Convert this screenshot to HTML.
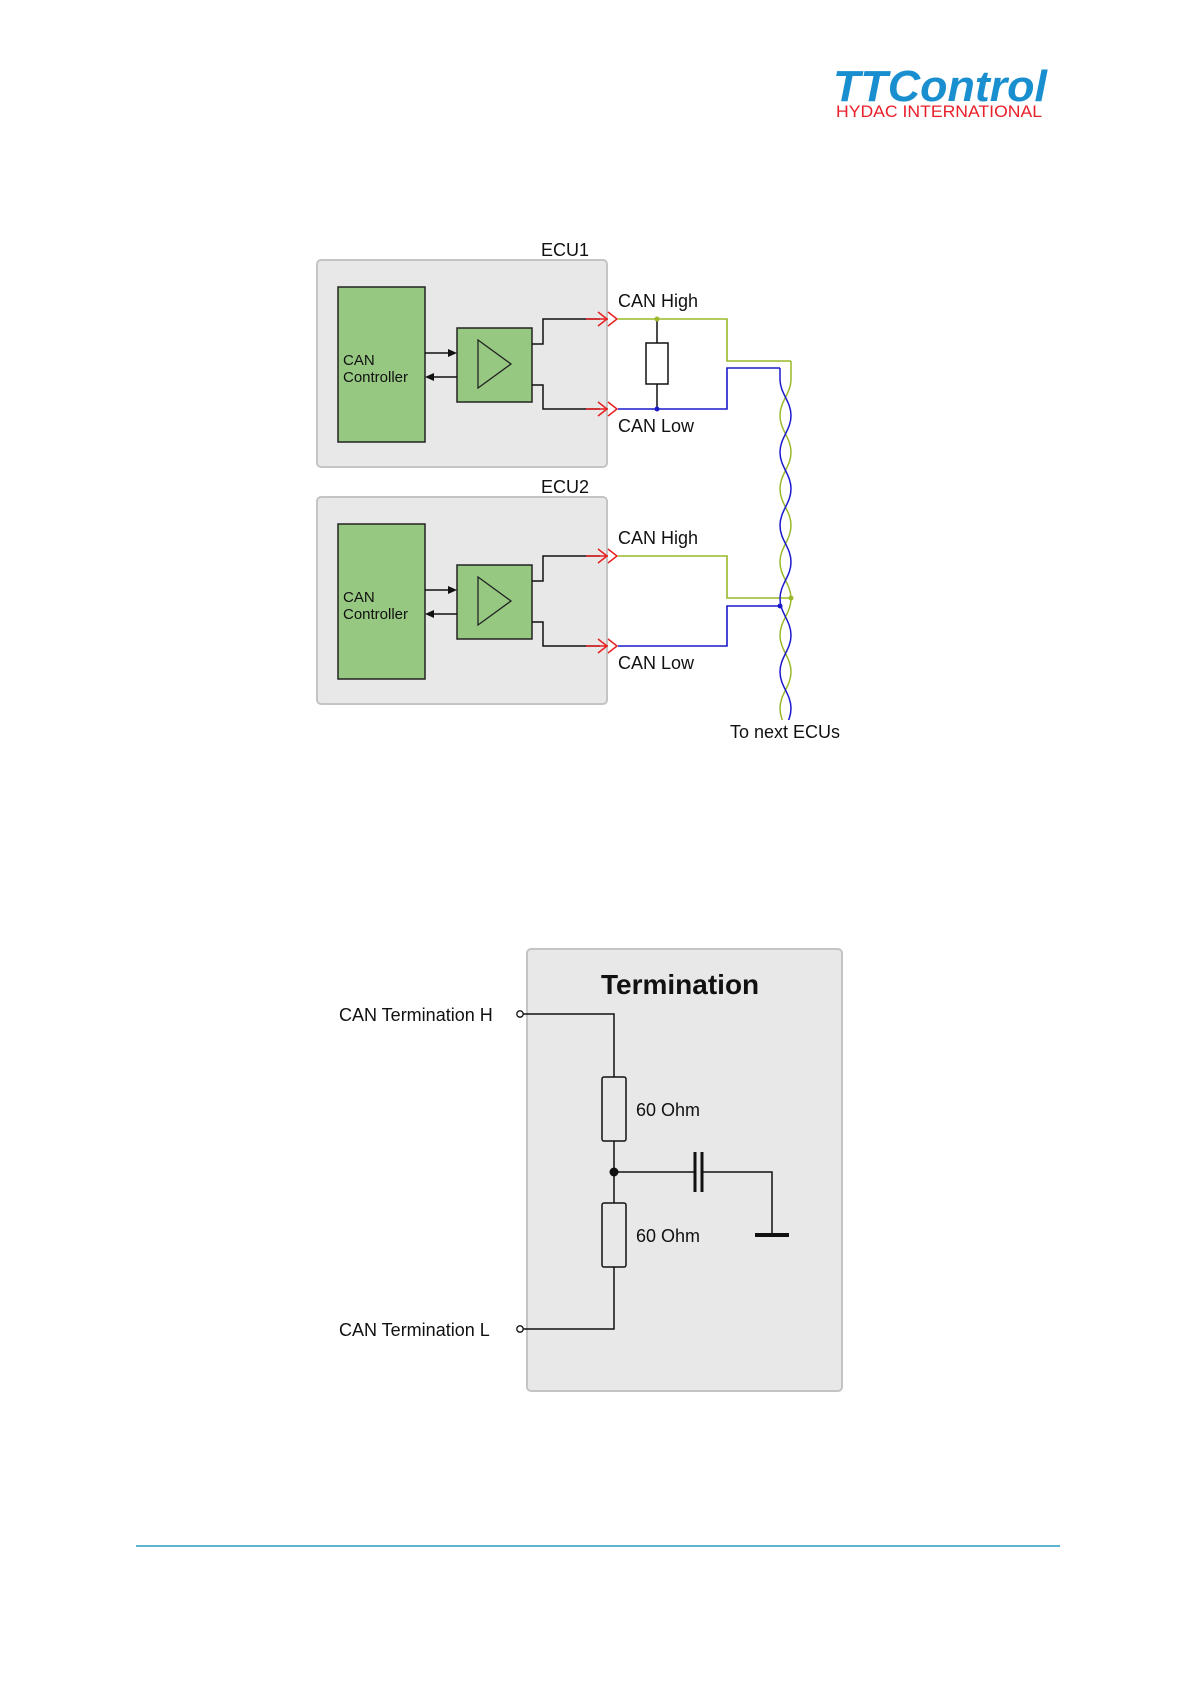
<!DOCTYPE html>
<html><head><meta charset="utf-8"><style>
html,body{margin:0;padding:0;background:#fff;}
svg{display:block;}
text{font-family:"Liberation Sans",Arial,sans-serif;}
</style></head><body>
<svg width="1191" height="1684" viewBox="0 0 1191 1684" xmlns="http://www.w3.org/2000/svg">
<defs>
<clipPath id="tp"><rect x="760" y="300" width="50" height="420"/></clipPath>
</defs>
<!-- Logo -->
<text x="833" y="101" font-size="44" font-weight="bold" font-style="italic" fill="#1a8fd0" textLength="214" lengthAdjust="spacingAndGlyphs">TTControl</text>
<text x="836" y="117" font-size="17" fill="#e8202a" textLength="206" lengthAdjust="spacingAndGlyphs">HYDAC INTERNATIONAL</text>

<!-- ECU boxes -->
<g id="ecu">
<rect x="317" y="260" width="290" height="207" rx="4" fill="#e8e8e8" stroke="#c4c4c4" stroke-width="2"/>
<text x="541" y="256" font-size="18" fill="#111">ECU1</text>
<rect x="338" y="287" width="87" height="155" fill="#96c882" stroke="#222" stroke-width="1.5"/>
<text x="343" y="365" font-size="15" fill="#111">CAN</text>
<text x="343" y="382" font-size="15" fill="#111">Controller</text>
<rect x="457" y="328" width="75" height="74" fill="#96c882" stroke="#222" stroke-width="1.5"/>
<polygon points="478,340 511,364 478,388" fill="none" stroke="#222" stroke-width="1.3"/>
<line x1="425" y1="353" x2="451" y2="353" stroke="#111" stroke-width="1.5"/>
<polygon points="457,353 448,349 448,357" fill="#111"/>
<line x1="431" y1="377" x2="457" y2="377" stroke="#111" stroke-width="1.5"/>
<polygon points="425,377 434,373 434,381" fill="#111"/>
<polyline points="532,344 543,344 543,319 600,319" fill="none" stroke="#111" stroke-width="1.5"/>
<polyline points="532,385 543,385 543,409 600,409" fill="none" stroke="#111" stroke-width="1.5"/>
<line x1="586" y1="319" x2="608" y2="319" stroke="#e82020" stroke-width="1.5"/>
<line x1="586" y1="409" x2="608" y2="409" stroke="#e82020" stroke-width="1.5"/>
<polyline points="598,312 607,319 598,326" fill="none" stroke="#e82020" stroke-width="1.5"/>
<polyline points="608,312 617,319 608,326" fill="none" stroke="#e82020" stroke-width="1.5"/>
<polyline points="598,402 607,409 598,416" fill="none" stroke="#e82020" stroke-width="1.5"/>
<polyline points="608,402 617,409 608,416" fill="none" stroke="#e82020" stroke-width="1.5"/>
<text x="618" y="307" font-size="18" fill="#111">CAN High</text>
<text x="618" y="432" font-size="18" fill="#111">CAN Low</text>
</g>
<g transform="translate(0,237)">
<rect x="317" y="260" width="290" height="207" rx="4" fill="#e8e8e8" stroke="#c4c4c4" stroke-width="2"/>
<text x="541" y="256" font-size="18" fill="#111">ECU2</text>
<rect x="338" y="287" width="87" height="155" fill="#96c882" stroke="#222" stroke-width="1.5"/>
<text x="343" y="365" font-size="15" fill="#111">CAN</text>
<text x="343" y="382" font-size="15" fill="#111">Controller</text>
<rect x="457" y="328" width="75" height="74" fill="#96c882" stroke="#222" stroke-width="1.5"/>
<polygon points="478,340 511,364 478,388" fill="none" stroke="#222" stroke-width="1.3"/>
<line x1="425" y1="353" x2="451" y2="353" stroke="#111" stroke-width="1.5"/>
<polygon points="457,353 448,349 448,357" fill="#111"/>
<line x1="431" y1="377" x2="457" y2="377" stroke="#111" stroke-width="1.5"/>
<polygon points="425,377 434,373 434,381" fill="#111"/>
<polyline points="532,344 543,344 543,319 600,319" fill="none" stroke="#111" stroke-width="1.5"/>
<polyline points="532,385 543,385 543,409 600,409" fill="none" stroke="#111" stroke-width="1.5"/>
<line x1="586" y1="319" x2="608" y2="319" stroke="#e82020" stroke-width="1.5"/>
<line x1="586" y1="409" x2="608" y2="409" stroke="#e82020" stroke-width="1.5"/>
<polyline points="598,312 607,319 598,326" fill="none" stroke="#e82020" stroke-width="1.5"/>
<polyline points="608,312 617,319 608,326" fill="none" stroke="#e82020" stroke-width="1.5"/>
<polyline points="598,402 607,409 598,416" fill="none" stroke="#e82020" stroke-width="1.5"/>
<polyline points="608,402 617,409 608,416" fill="none" stroke="#e82020" stroke-width="1.5"/>
<text x="618" y="307" font-size="18" fill="#111">CAN High</text>
<text x="618" y="432" font-size="18" fill="#111">CAN Low</text>
</g>

<!-- bus wiring ECU1 -->
<polyline points="618,319 727,319 727,361 791,361" fill="none" stroke="#9ab82a" stroke-width="1.6"/>
<polyline points="618,409 727,409 727,368 780,368" fill="none" stroke="#1a1acc" stroke-width="1.6"/>
<line x1="657" y1="319" x2="657" y2="409" stroke="#111" stroke-width="1.5"/>
<rect x="646" y="343" width="22" height="41" fill="#fff" stroke="#111" stroke-width="1.5"/>
<circle cx="657" cy="319" r="2.5" fill="#9ab82a"/>
<circle cx="657" cy="409" r="2.5" fill="#1a1acc"/>
<!-- ECU2 wiring -->
<polyline points="618,556 727,556 727,598 791,598" fill="none" stroke="#9ab82a" stroke-width="1.6"/>
<polyline points="618,646 727,646 727,606 780,606" fill="none" stroke="#1a1acc" stroke-width="1.6"/>

<!-- twisted pair -->
<g clip-path="url(#tp)" fill="none" stroke-width="1.5" transform="translate(1,0)">
<path stroke="#9ab82a" d="M790 361 L790 379 C790 393.6 779 401 779 415.6 S790 437.6 790 452.2 S779 474.2 779 488.8 S790 510.8 790 525.4 S779 547.4 779 562 S790 584 790 598.6 S779 620.6 779 635.2 S790 657.2 790 671.8 S779 693.8 779 708.4 S790 730.4 790 745"/>
<path stroke="#1a1acc" d="M779 368 L779 379 C779 393.6 790 401 790 415.6 S779 437.6 779 452.2 S790 474.2 790 488.8 S779 510.8 779 525.4 S790 547.4 790 562 S779 584 779 598.6 S790 620.6 790 635.2 S779 657.2 779 671.8 S790 693.8 790 708.4 S779 730.4 779 745"/>
</g>
<circle cx="791" cy="598" r="2.5" fill="#9ab82a"/>
<circle cx="780" cy="606" r="2.5" fill="#1a1acc"/>
<text x="730" y="738" font-size="18" fill="#111">To next ECUs</text>

<!-- Termination -->
<rect x="527" y="949" width="315" height="442" rx="4" fill="#e8e8e8" stroke="#c4c4c4" stroke-width="2"/>
<text x="601" y="994" font-size="28" font-weight="bold" fill="#111">Termination</text>
<text x="339" y="1021" font-size="18" fill="#111">CAN Termination H</text>
<text x="339" y="1336" font-size="18" fill="#111">CAN Termination L</text>
<polyline points="523,1014 614,1014 614,1329 523,1329" fill="none" stroke="#111" stroke-width="1.5"/>
<circle cx="520" cy="1014" r="3.2" fill="#fff" stroke="#111" stroke-width="1.3"/>
<circle cx="520" cy="1329" r="3.2" fill="#fff" stroke="#111" stroke-width="1.3"/>
<rect x="602" y="1077" width="24" height="64" rx="2" fill="#e8e8e8" stroke="#111" stroke-width="1.5"/>
<rect x="602" y="1203" width="24" height="64" rx="2" fill="#e8e8e8" stroke="#111" stroke-width="1.5"/>
<circle cx="614" cy="1172" r="4.5" fill="#111"/>
<line x1="614" y1="1172" x2="695" y2="1172" stroke="#111" stroke-width="1.5"/>
<line x1="695" y1="1152" x2="695" y2="1192" stroke="#111" stroke-width="3"/>
<line x1="702" y1="1152" x2="702" y2="1192" stroke="#111" stroke-width="3"/>
<polyline points="702,1172 772,1172 772,1235" fill="none" stroke="#111" stroke-width="1.5"/>
<line x1="755" y1="1235" x2="789" y2="1235" stroke="#111" stroke-width="4"/>
<text x="636" y="1116" font-size="18" fill="#111">60 Ohm</text>
<text x="636" y="1242" font-size="18" fill="#111">60 Ohm</text>

<!-- footer line -->
<line x1="136" y1="1546" x2="1060" y2="1546" stroke="#2a9bc0" stroke-width="1.5"/>
</svg>
</body></html>
